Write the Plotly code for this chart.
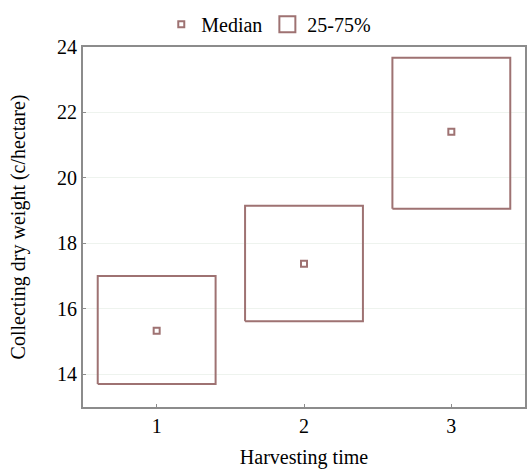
import plotly.graph_objects as go

harvest = [1, 2, 3]
q25 = [13.7, 15.62, 19.06]
q75 = [17.0, 19.15, 23.67]
median = [15.33, 17.38, 21.41]
half_width = 0.4

box_color = "#9e7272"
font_family = "Liberation Serif, Times New Roman, serif"

fig = go.Figure()

for i, x in enumerate(harvest):
    fig.add_trace(go.Scatter(
        x=[x - half_width, x + half_width, x + half_width, x - half_width, x - half_width],
        y=[q25[i], q25[i], q75[i], q75[i], q25[i]],
        mode="lines",
        line=dict(color=box_color, width=2),
        showlegend=False,
        hoverinfo="skip",
    ))

fig.add_trace(go.Scatter(
    x=harvest, y=median, mode="markers", name="Median",
    marker=dict(symbol="square-open", size=6, color=box_color, line=dict(width=2)),
))
# legend entry for the box
fig.add_trace(go.Scatter(
    x=[None], y=[None], mode="markers", name="25-75%",
    marker=dict(symbol="square-open", size=22, color=box_color, line=dict(width=2)),
))

fig.update_layout(
    width=527, height=469,
    margin=dict(l=83, r=2, t=47, b=62, autoexpand=False),
    paper_bgcolor="white", plot_bgcolor="white",
    font=dict(family=font_family, size=20, color="black"),
    legend=dict(orientation="h", x=0.51, xanchor="center", y=0.99, yanchor="top",
                yref="container", xref="container", font=dict(size=20),
                itemsizing="trace", itemwidth=30, tracegroupgap=0),
    showlegend=True,
)

fig.update_xaxes(
    range=[0.5, 3.5], tickvals=harvest, ticktext=["1", "2", "3"],
    showline=True, linecolor="#8c8c8c", linewidth=2, mirror=True,
    showgrid=False, zeroline=False, automargin=False,
    ticks="inside", ticklen=3, tickcolor="#8c8c8c",
    title=dict(text="Harvesting time", standoff=31, font=dict(size=20)),
)
fig.update_yaxes(
    range=[13, 24], tickvals=[14, 16, 18, 20, 22, 24],
    showline=True, linecolor="#8c8c8c", linewidth=2, mirror=True,
    showgrid=True, gridcolor="#eef3ee", gridwidth=1, zeroline=False, automargin=False,
    ticks="inside", ticklen=3, tickcolor="#8c8c8c",
    title=dict(text="Collecting dry weight (c/hectare)", standoff=26, font=dict(size=20)),
)

fig.write_html("out.html")
